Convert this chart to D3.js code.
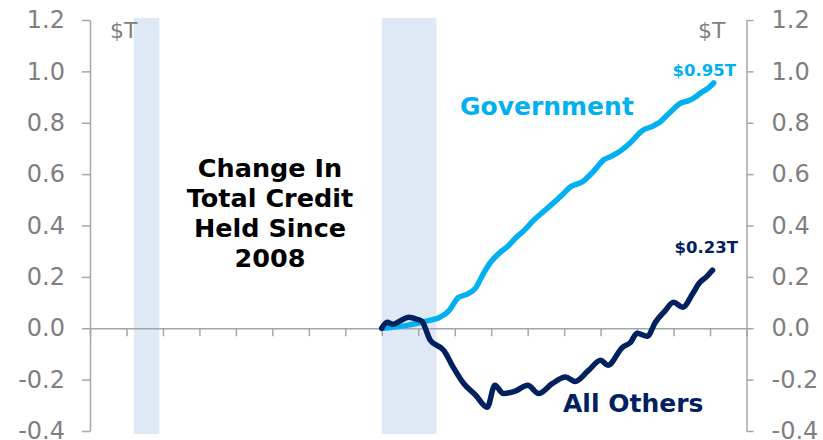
<!DOCTYPE html>
<html>
<head>
<meta charset="utf-8">
<script src="https://cdn.jsdelivr.net/npm/d3@7"></script>
<style>
  html, body { margin: 0; padding: 0; background: #fff; }
  svg { display: block; }
  text { font-family: "DejaVu Sans", Verdana, sans-serif; }
</style>
</head>
<body>
<svg id="chart" width="823" height="440"></svg>
<script>
// ---- data ----
const yTicks = [-0.4, -0.2, 0.0, 0.2, 0.4, 0.6, 0.8, 1.0, 1.2];
const xYears = [2001, 2002, 2003, 2004, 2005, 2006, 2007, 2008, 2009, 2010, 2011, 2012, 2013, 2014, 2015, 2016, 2017];
const recessions = [[2001.2, 2001.9], [2008.0, 2009.5]];

const govDates = [2008.0, 2008.3, 2008.73, 2009.19, 2009.6, 2009.85, 2010.1, 2010.3, 2010.57, 2010.79, 2011.0, 2011.25, 2011.45, 2011.66, 2011.9, 2012.16, 2012.4, 2012.7, 2012.95, 2013.17, 2013.5, 2013.8, 2014.08, 2014.3, 2014.5, 2014.8, 2015.15, 2015.4, 2015.6, 2015.9, 2016.2, 2016.4, 2016.6, 2016.74, 2016.95, 2017.1];
const govValues = [0.0, 0.004, 0.012, 0.027, 0.043, 0.07, 0.12, 0.13, 0.156, 0.214, 0.26, 0.296, 0.318, 0.35, 0.38, 0.42, 0.45, 0.487, 0.52, 0.55, 0.57, 0.61, 0.655, 0.67, 0.686, 0.72, 0.77, 0.785, 0.80, 0.84, 0.877, 0.885, 0.90, 0.916, 0.935, 0.955];

const othDates = [2008.0, 2008.15, 2008.3, 2008.5, 2008.73, 2008.97, 2009.1, 2009.33, 2009.7, 2009.96, 2010.24, 2010.57, 2010.89, 2011.1, 2011.33, 2011.66, 2012.0, 2012.3, 2012.68, 2013.04, 2013.3, 2013.67, 2014.0, 2014.2, 2014.6, 2014.82, 2015.0, 2015.28, 2015.5, 2015.75, 2016.0, 2016.25, 2016.53, 2016.7, 2016.9, 2017.07];
const othValues = [0.0, 0.023, 0.016, 0.028, 0.043, 0.035, 0.027, -0.047, -0.086, -0.152, -0.214, -0.26, -0.308, -0.222, -0.254, -0.245, -0.222, -0.254, -0.215, -0.19, -0.207, -0.164, -0.125, -0.144, -0.074, -0.055, -0.019, -0.031, 0.023, 0.065, 0.101, 0.082, 0.136, 0.175, 0.2, 0.226];

const labels = { title: ["Change In", "Total Credit", "Held Since", "2008"], gov: "Government", oth: "All Others", govEnd: "$0.95T", othEnd: "$0.23T", unit: "$T" };

// ---- colors ----
const GOV = "#00b0f0", OTH = "#002060", GRAY = "#7f7f7f", AXIS = "#a6a6a6", SHADE = "#dfe9f6";

const svg = d3.select("#chart");
const x = d3.scaleLinear().domain([2000, 2018]).range([90, 746.5]);
const y = d3.scaleLinear().domain([-0.4, 1.2]).range([431, 20]);

// recession shading
svg.append("g").selectAll("rect").data(recessions).join("rect")
  .attr("x", d => x(d[0])).attr("width", d => x(d[1]) - x(d[0]))
  .attr("y", y(1.2) - 2).attr("height", y(-0.4) - y(1.2) + 5)
  .attr("fill", SHADE);

// zero line with year ticks
const xAxis = svg.append("g").attr("transform", `translate(0,${y(0)})`)
  .call(d3.axisBottom(x).tickValues(xYears).tickSize(8).tickFormat(""));
xAxis.select(".domain").attr("stroke", AXIS).attr("stroke-width", 1.5);
xAxis.selectAll(".tick line").attr("stroke", AXIS).attr("stroke-width", 1.5);

// left axis
const fmt = d3.format(".1f");
const left = svg.append("g").attr("transform", `translate(${x(2000)},0)`)
  .call(d3.axisLeft(y).tickValues(yTicks).tickSize(8).tickSizeOuter(0).tickPadding(17).tickFormat(d => fmt(d).replace("−", "-")));
// right axis
const right = svg.append("g").attr("transform", `translate(${x(2018)},0)`)
  .call(d3.axisRight(y).tickValues(yTicks).tickSize(7).tickSizeOuter(0).tickPadding(18).tickFormat(d => fmt(d).replace("−", "-")));
[left, right].forEach(g => {
  g.select(".domain").attr("stroke", AXIS).attr("stroke-width", 1.5);
  g.selectAll(".tick line").attr("stroke", AXIS).attr("stroke-width", 1.5);
  g.selectAll(".tick text").attr("fill", GRAY).attr("font-size", 24)
    .attr("font-family", "DejaVu Sans, Verdana, sans-serif");
});

// unit labels
svg.append("text").attr("x", x(2000) + 20).attr("y", 38).attr("fill", GRAY)
  .attr("font-size", 22).text(labels.unit);
svg.append("text").attr("x", x(2018) - 21).attr("y", 38).attr("fill", GRAY)
  .attr("font-size", 22).attr("text-anchor", "end").text(labels.unit);

// lines
const line = d3.line().x(d => x(d[0])).y(d => y(d[1])).curve(d3.curveMonotoneX);
const govData = govDates.map((d, i) => [d, govValues[i]]);
const othData = othDates.map((d, i) => [d, othValues[i]]);
svg.append("path").datum(govData).attr("d", line).attr("fill", "none")
  .attr("stroke", GOV).attr("stroke-width", 5.5).attr("stroke-linecap", "round").attr("stroke-linejoin", "round");
svg.append("path").datum(othData).attr("d", line).attr("fill", "none")
  .attr("stroke", OTH).attr("stroke-width", 5.5).attr("stroke-linecap", "round").attr("stroke-linejoin", "round");

// title block
const t = svg.append("text").attr("text-anchor", "middle").attr("font-size", 25.5)
  .attr("font-weight", "bold").attr("fill", "#000");
labels.title.forEach((s, i) => {
  t.append("tspan").attr("x", 270).attr("y", 177 + i * 30).text(s);
});

// series labels
svg.append("text").attr("x", 460).attr("y", 115).attr("font-size", 25).attr("font-weight", "bold")
  .attr("fill", GOV).text(labels.gov);
svg.append("text").attr("x", 563).attr("y", 412).attr("font-size", 25).attr("font-weight", "bold")
  .attr("fill", OTH).text(labels.oth);
svg.append("text").attr("x", 736).attr("y", 76).attr("font-size", 16.5).attr("font-weight", "bold")
  .attr("text-anchor", "end").attr("fill", GOV).text(labels.govEnd);
svg.append("text").attr("x", 738).attr("y", 253).attr("font-size", 16.5).attr("font-weight", "bold")
  .attr("text-anchor", "end").attr("fill", OTH).text(labels.othEnd);
</script>
</body>
</html>
